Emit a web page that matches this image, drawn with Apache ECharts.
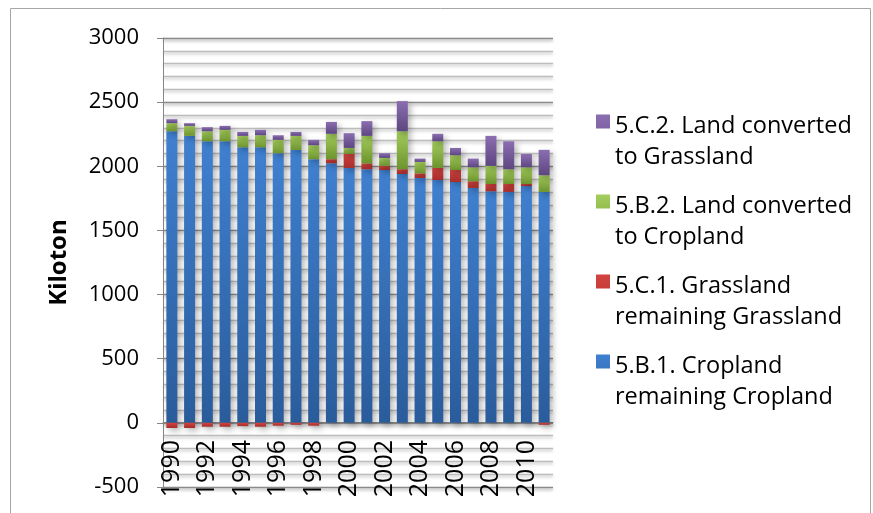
<!DOCTYPE html>
<html>
<head>
<meta charset="utf-8">
<script src="https://cdn.jsdelivr.net/npm/echarts@6/dist/echarts.min.js"></script>
<style>html,body{margin:0;padding:0;background:#fff}#c{width:873px;height:513px}</style>
</head>
<body>
<div id="c"></div>
<script>
const years = ['1990','1991','1992','1993','1994','1995','1996','1997','1998','1999','2000','2001','2002','2003','2004','2005','2006','2007','2008','2009','2010','2011'];
const croplandRemaining = [2273, 2237, 2195, 2195, 2148, 2148, 2102, 2128, 2055, 2023, 1987, 1977, 1971, 1940, 1909, 1893, 1877, 1831, 1805, 1800, 1846, 1800];
const grasslandRemaining = [-40, -40, -30, -30, -25, -30, -22, -15, -22, 32, 109, 46, 32, 37, 36, 94, 94, 52, 57, 62, 16, -15];
const convertedToCropland = [63, 78, 78, 89, 89, 94, 104, 109, 109, 198, 47, 214, 62, 296, 89, 208, 115, 109, 141, 115, 130, 130];
const convertedToGrassland = [31, 21, 32, 31, 31, 42, 36, 31, 42, 93, 115, 115, 37, 235, 26, 58, 57, 68, 234, 218, 104, 198];
const seriesNames = [
  '5.B.1. Cropland\nremaining Cropland',
  '5.C.1. Grassland\nremaining Grassland',
  '5.B.2. Land converted\nto Cropland',
  '5.C.2. Land converted\nto Grassland'
];
const yAxisTitle = 'Kiloton';

const FONT = 'Open Sans';
function grad(a, b) {
  return new echarts.graphic.LinearGradient(0, 0, 0, 1, [{offset: 0, color: a}, {offset: 1, color: b}]);
}
const fills = [
  grad('#3f80d0', '#2a5c9b'),
  grad('#d24440', '#a52d2b'),
  grad('#a3cd5c', '#6d932e'),
  grad('#8b6eb1', '#5d4680')
];
const values = [croplandRemaining, grasslandRemaining, convertedToCropland, convertedToGrassland];

const chart = echarts.init(document.getElementById('c'), null, {renderer: 'canvas'});
chart.setOption({
  animation: false,
  backgroundColor: '#fff',
  textStyle: {fontFamily: FONT},
  graphic: [{
    type: 'rect', shape: {x: 10.5, y: 8.5, width: 860, height: 530},
    style: {fill: 'none', stroke: '#a6a6a6', lineWidth: 1}, z: -1
  }],
  grid: {left: 163, right: 320, top: 38, bottom: 26, containLabel: false, outerBoundsMode: 'none'},
  legend: {
    orient: 'vertical', left: 596, top: 111, padding: 0, itemGap: 18,
    itemWidth: 14, itemHeight: 55,
    icon: 'path://M0,0L14,0L14,14L0,14Z M0,55L0.01,55Z',
    data: [seriesNames[3], seriesNames[2], seriesNames[1], seriesNames[0]],
    textStyle: {fontFamily: FONT, fontSize: 23.5, lineHeight: 31, color: '#000'}
  },
  xAxis: {
    type: 'category', data: years, offset: -65,
    axisLine: {onZero: false, show: true, lineStyle: {color: '#868686'}},
    axisTick: {show: false},
    axisLabel: {interval: 1, rotate: 90, fontSize: 25, color: '#000', margin: 18, fontFamily: FONT}
  },
  yAxis: {
    type: 'value', min: -500, max: 3000, interval: 500,
    name: yAxisTitle, nameLocation: 'middle', nameGap: 92,
    nameTextStyle: {fontSize: 24, fontWeight: 'bold', color: '#000', fontFamily: FONT},
    axisLine: {show: true, lineStyle: {color: '#868686'}},
    axisTick: {show: true, length: 6, lineStyle: {color: '#868686'}},
    axisLabel: {fontSize: 22, color: '#000', margin: 24, fontFamily: FONT, formatter: v => String(v)},
    splitLine: {show: true, lineStyle: {color: '#8a8a8a', width: 1.3, shadowColor: 'rgba(0,0,0,0.35)', shadowBlur: 3, shadowOffsetY: 2}},
    minorTick: {show: true, splitNumber: 5, length: 0},
    minorSplitLine: {show: true, lineStyle: {color: '#bcbcbc', width: 1.3, shadowColor: 'rgba(0,0,0,0.25)', shadowBlur: 3, shadowOffsetY: 2}}
  },
  series: seriesNames.map((n, i) => ({
    name: n, type: 'bar', stack: 'total', barWidth: 11,
    data: values[i],
    itemStyle: {color: fills[i], shadowColor: 'rgba(0,0,0,0.28)', shadowBlur: 6, shadowOffsetX: 3, shadowOffsetY: 3}
  }))
});
</script>
</body>
</html>
